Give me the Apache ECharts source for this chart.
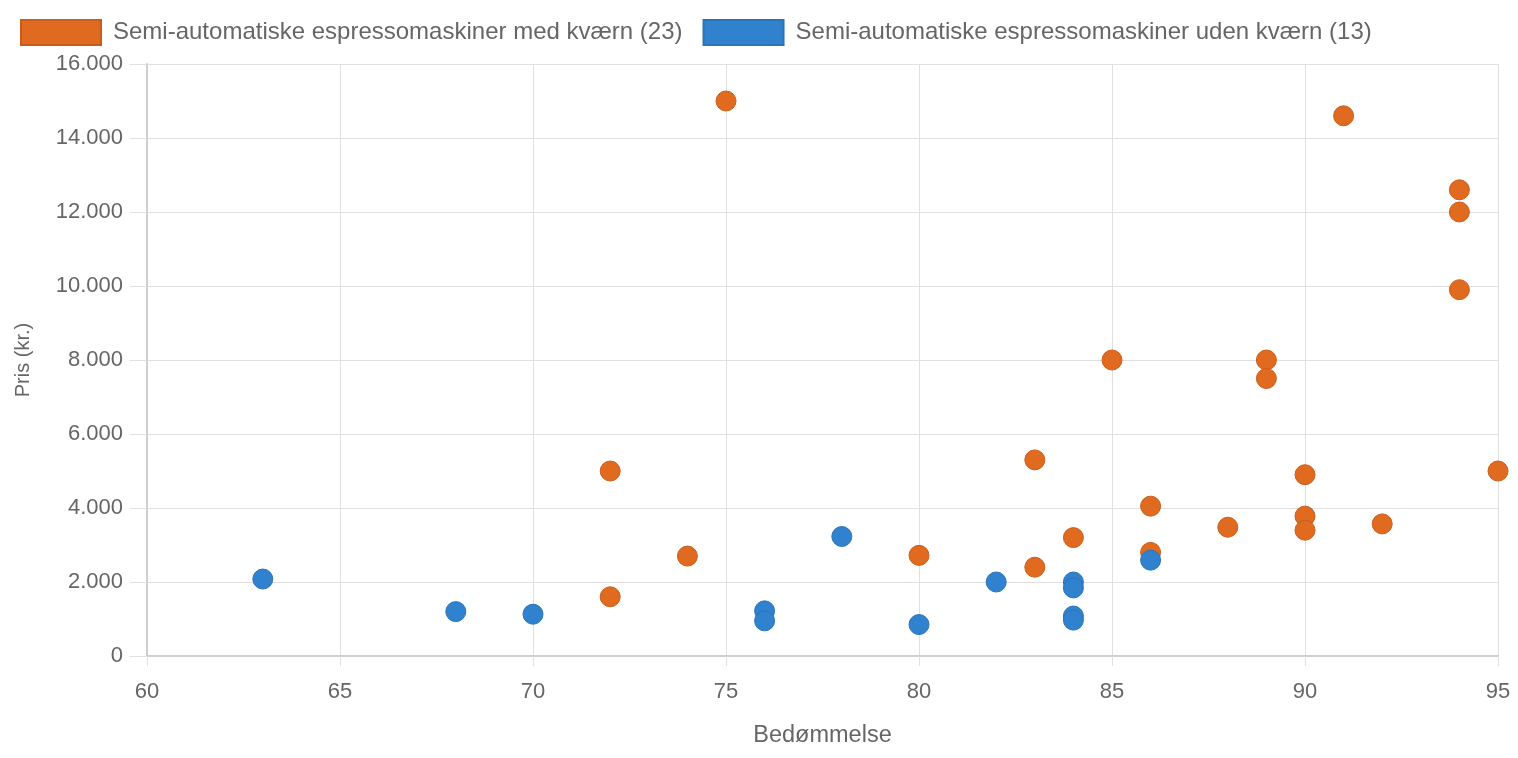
<!DOCTYPE html>
<html>
<head>
<meta charset="utf-8">
<title>Espressomaskiner</title>
<script src="https://cdn.jsdelivr.net/npm/echarts@6/dist/echarts.min.js"></script>
<style>
  html, body { margin: 0; padding: 0; background: #fff; }
  #chart { width: 1518px; height: 758px; }
</style>
</head>
<body>
<div id="chart"></div>
<script>
// [bedømmelse, pris]
const medKvaern = [
  [72, 5000], [72, 1600], [74, 2700], [75, 15000], [80, 2720],
  [83, 5300], [83, 2400], [84, 3200], [85, 8000], [86, 4050],
  [86, 2800], [88, 3480], [89, 8000], [89, 7500], [90, 4900],
  [90, 3780], [90, 3400], [91, 14600], [92, 3570], [94, 12600],
  [94, 12000], [94, 9900], [95, 5000]
]
const udenKvaern = [
  [63, 2080], [68, 1200], [70, 1130], [76, 1220], [76, 950],
  [78, 3230], [80, 850], [82, 2000], [84, 2000], [84, 1840],
  [84, 1080], [84, 970], [86, 2590]
]
const seriesNames = [
  'Semi-automatiske espressomaskiner med kværn (23)',
  'Semi-automatiske espressomaskiner uden kværn (13)'
]
const colors = ['#E06A1F', '#3182CE']
const borderColors = ['#C95E1B', '#2B74B8']

const fontFamily = '"Liberation Sans", Arial, Helvetica, sans-serif'
const textColor = '#666'

const fmt = v => String(v).replace(/\B(?=(\d{3})+(?!\d))/g, '.')

const myChart = echarts.init(document.getElementById('chart'))
const option = {
  animation: false,
  color: colors,
  textStyle: { fontFamily: fontFamily },
  legend: {
    left: 20,
    top: 19,
    padding: 0,
    icon: 'rect',
    itemWidth: 80,
    itemHeight: 25,
    itemGap: 20,
    textStyle: { color: textColor, fontSize: 24, fontFamily: fontFamily, padding: [2, 0, 0, 7] },
    data: seriesNames
  },
  grid: {
    top: 64,
    bottom: 102,
    left: 147,
    right: 20,
    outerBoundsMode: 'none'
  },
  xAxis: {
    type: 'value',
    min: 60,
    max: 95,
    interval: 5,
    name: 'Bedømmelse',
    nameLocation: 'middle',
    nameGap: 68,
    nameTextStyle: { color: textColor, fontSize: 23.5, fontFamily: fontFamily },
    axisLine: { show: true, lineStyle: { color: '#cfcfcf', width: 2 } },
    axisTick: { show: true, length: 10, lineStyle: { color: '#e0e0e0' } },
    axisLabel: { color: textColor, fontSize: 22, margin: 25, fontFamily: fontFamily },
    splitLine: { show: true, lineStyle: { color: '#e0e0e0' } }
  },
  yAxis: {
    type: 'value',
    min: 0,
    max: 16000,
    interval: 2000,
    name: 'Pris (kr.)',
    nameLocation: 'middle',
    nameGap: 114,
    nameTextStyle: { color: textColor, fontSize: 20, fontFamily: fontFamily },
    axisLine: { show: true, lineStyle: { color: '#cfcfcf', width: 2 } },
    axisTick: { show: true, length: 17, lineStyle: { color: '#e0e0e0' } },
    axisLabel: { color: textColor, fontSize: 22, margin: 24, fontFamily: fontFamily, formatter: fmt },
    splitLine: { show: true, lineStyle: { color: '#e0e0e0' } }
  },
  series: [
    {
      name: seriesNames[0],
      type: 'scatter',
      symbolSize: 20,
      data: medKvaern,
      itemStyle: { color: colors[0], borderColor: borderColors[0], borderWidth: 1, opacity: 1 }
    },
    {
      name: seriesNames[1],
      type: 'scatter',
      symbolSize: 20,
      data: udenKvaern,
      itemStyle: { color: colors[1], borderColor: borderColors[1], borderWidth: 1, opacity: 1 }
    }
  ]
}
myChart.setOption(option)
</script>
</body>
</html>
